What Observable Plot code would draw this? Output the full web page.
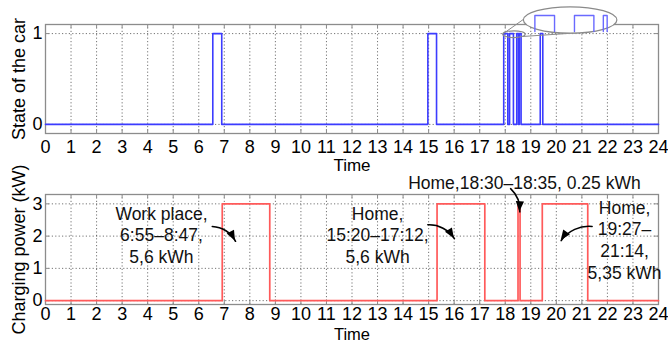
<!DOCTYPE html>
<html><head><meta charset="utf-8">
<script src="https://cdn.jsdelivr.net/npm/d3@7"></script>
<script src="https://cdn.jsdelivr.net/npm/@observablehq/plot@0.6"></script>
<style>
body{margin:0;background:#fff;}
#chart svg{display:block;overflow:visible;}
</style></head><body><div id="chart"></div>
<script>
// ---- data ----
const hourTicks = [0,1,2,3,4,5,6,7,8,9,10,11,12,13,14,15,16,17,18,19,20,21,22,23,24];
const stateTicks = [0, 1];
const powerTicks = [0, 1, 2, 3];
const xLabel = "Time";
const stateLabel = "State of the car";
const powerLabel = "Charging power (kW)";

// state of the car (step-after change points)
const stateTime  = [0, 6.55, 6.90, 14.97, 15.31, 17.94, 18.10, 18.17, 18.32, 18.45, 18.52, 18.55, 18.62, 19.37, 19.47, 24];
const stateValue = [0, 1,    0,    1,     0,     1,     0,     1,     0,     1,     0,     1,     0,     1,     0,     0];

// charging power (step-after change points)
const powerTime  = [0, 6.92, 8.78, 15.33, 17.20, 18.50, 18.58, 19.45, 21.23, 24];
const powerValue = [0, 3,    0,    3,     0,     3,     0,     3,     0,     0];

// magnified inset pulses (drawn inside the callout ellipse)
const insetStart = [19.16, 20.71, 21.84];
const insetEnd   = [19.93, 21.47, 21.99];

// annotations
const noteText = ["Work place,\n6:55–8:47,\n5,6 kWh", "Home,\n15:20–17:12,\n5,6 kWh", "Home,18:30–18:35, 0.25 kWh", "Home,\n19:27–\n21:14,\n5,35 kWh"];
const noteX = [4.54, 13.0, 18.75, 22.67];
const noteY = [2.05, 2.05, 3.67, 1.90];
const arrowX1 = [6.53, 14.97, 18.21, 21.40];
const arrowY1 = [2.30, 2.35, 3.47, 2.30];
const arrowX2 = [7.44, 16.01, 18.57, 20.19];
const arrowY2 = [1.84, 1.92, 2.75, 1.86];
const arrowBend = [30, 30, 25, -30];

// ---- styling ----
const FONT = '"Liberation Sans", Arial, Helvetica, sans-serif';
const W = 668;
const ML = 45, MR = 10;
const innerW = W - ML - MR;
const BLUE = "#3c3cff", RED = "#ff5a5a";
const GRID = {stroke: "#333", strokeOpacity: 0.85, strokeWidth: 0.8, strokeDasharray: "1.2,2.2"};
const FRAMEC = "#8c8c8c";

function ellipseMark(cx, cy, rx, ry, fill) {
  return (index, scales) => {
    const x = scales.x, y = scales.y;
    return d3.create("svg:ellipse")
      .attr("cx", x(cx)).attr("cy", y(cy))
      .attr("rx", Math.abs(x(cx + rx) - x(cx)))
      .attr("ry", Math.abs(y(cy + ry) - y(cy)))
      .attr("fill", fill).attr("stroke", "#8a8a8a").attr("stroke-width", 1.2)
      .node();
  };
}

// filled arrowheads matching Plot.arrow's bend geometry
function arrowHeads(list, len, halfAngleDeg) {
  return (index, scales) => {
    const g = d3.create("svg:g");
    const w = halfAngleDeg * Math.PI / 180;
    for (const a of list) {
      const X1 = scales.x(a.x1), Y1 = scales.y(a.y1), X2 = scales.x(a.x2), Y2 = scales.y(a.y2);
      const th = Math.atan2(Y2 - Y1, X2 - X1) + a.bend * Math.PI / 180;
      const p1 = [X2 - len * Math.cos(th - w), Y2 - len * Math.sin(th - w)];
      const p2 = [X2 - len * Math.cos(th + w), Y2 - len * Math.sin(th + w)];
      g.append("path").attr("d", `M${X2},${Y2}L${p1[0]},${p1[1]}L${p2[0]},${p2[1]}Z`).attr("fill", "#000");
    }
    return g.node();
  };
}

function frameParts(ticksY, innerH, label, xPad, xLabelDy, xLabelSize) {
  return [
    Plot.gridX({ticks: hourTicks.slice(1, -1), ...GRID}),
    Plot.gridY({ticks: ticksY, ...GRID}),
    Plot.ruleX(hourTicks, {insetTop: innerH - 4, stroke: FRAMEC}),
    Plot.ruleX(hourTicks, {insetBottom: innerH - 4, stroke: FRAMEC}),
    Plot.ruleY(ticksY, {insetRight: innerW - 4, stroke: FRAMEC}),
    Plot.ruleY(ticksY, {insetLeft: innerW - 4, stroke: FRAMEC}),
    Plot.frame({stroke: FRAMEC, strokeWidth: 1.3}),
    Plot.axisX({ticks: hourTicks, tickSize: 0, tickPadding: xPad, fontSize: 18, label: null, tickFormat: d => String(d)}),
    Plot.axisY({ticks: ticksY, tickSize: 0, tickPadding: 3, fontSize: 18, label: null, tickFormat: d => String(d)}),
    Plot.text([xLabel], {text: d => d, frameAnchor: "bottom", dy: xLabelDy, lineAnchor: "top", fontSize: xLabelSize}),
    Plot.text([label], {text: d => d, frameAnchor: "left", dx: -26, rotate: -90, lineAnchor: "middle", textAnchor: "middle", fontSize: 18})
  ];
}

const chart = document.getElementById("chart");

// ---- top chart ----
const topH = 174, topMT = 24, topMB = 41;
const stateRows = stateTime.map((t, i) => ({t, v: stateValue[i]}));
const insetRows = insetStart.flatMap((s, i) => [
  {t: s, v: 1.023, k: i}, {t: s, v: 1.199, k: i}, {t: insetEnd[i], v: 1.199, k: i}, {t: insetEnd[i], v: 1.023, k: i}
]);
const topPlot = Plot.plot({
  width: W, height: topH, marginLeft: ML, marginRight: MR, marginTop: topMT, marginBottom: topMB,
  style: {fontFamily: FONT, fontSize: "18px", overflow: "visible", background: "white", color: "#000"},
  x: {domain: [0, 24]},
  y: {domain: [-0.1, 1.1]},
  marks: [
    ...frameParts(stateTicks, topH - topMT - topMB, stateLabel, 7, 25, 17),
    Plot.line(stateRows, {x: "t", y: "v", curve: "step-after", stroke: BLUE, strokeWidth: 1.6}),
    ellipseMark(18.36, 0.988, 0.44, 0.037, "none"),
    Plot.link([0], {x1: () => 17.93, y1: () => 1.001, x2: () => 18.87, y2: () => 1.188, stroke: "#8a8a8a", strokeWidth: 1}),
    Plot.link([0], {x1: () => 18.68, y1: () => 0.968, x2: () => 20.75, y2: () => 1.007, stroke: "#8a8a8a", strokeWidth: 1}),
    ellipseMark(20.56, 1.144, 1.83, 0.145, "white"),
    Plot.line(insetRows, {x: "t", y: "v", z: "k", stroke: "#6a6aff", strokeWidth: 1.4})
  ]
});
chart.appendChild(topPlot);

// ---- bottom chart ----
const botH = 169, botMT = 20, botMB = 39;
const powerRows = powerTime.map((t, i) => ({t, v: powerValue[i]}));
const notes = noteText.map((text, i) => ({text, x: noteX[i], y: noteY[i]}));
const arrows = arrowX1.map((x1, i) => ({x1, y1: arrowY1[i], x2: arrowX2[i], y2: arrowY2[i], bend: arrowBend[i]}));
const botPlot = Plot.plot({
  width: W, height: botH, marginLeft: ML, marginRight: MR, marginTop: botMT, marginBottom: botMB,
  style: {fontFamily: FONT, fontSize: "18px", overflow: "visible", background: "white", color: "#000"},
  x: {domain: [0, 24]},
  y: {domain: [-0.12, 3.29]},
  marks: [
    ...frameParts(powerTicks, botH - botMT - botMB, powerLabel, 3, 23.5, 16.5),
    Plot.line(powerRows, {x: "t", y: "v", curve: "step-after", stroke: RED, strokeWidth: 1.7}),
    Plot.text(notes, {x: "x", y: "y", text: "text", fontSize: 17.5, lineHeight: 1.23, lineAnchor: "middle", textAnchor: "middle", fill: "#111"}),
    ...arrows.map(a => Plot.arrow([a], {x1: "x1", y1: "y1", x2: "x2", y2: "y2", bend: a.bend, stroke: "#000", strokeWidth: 1.6, headLength: 0})),
    arrowHeads(arrows, 11, 22)
  ]
});
chart.appendChild(botPlot);
</script>
</body></html>
